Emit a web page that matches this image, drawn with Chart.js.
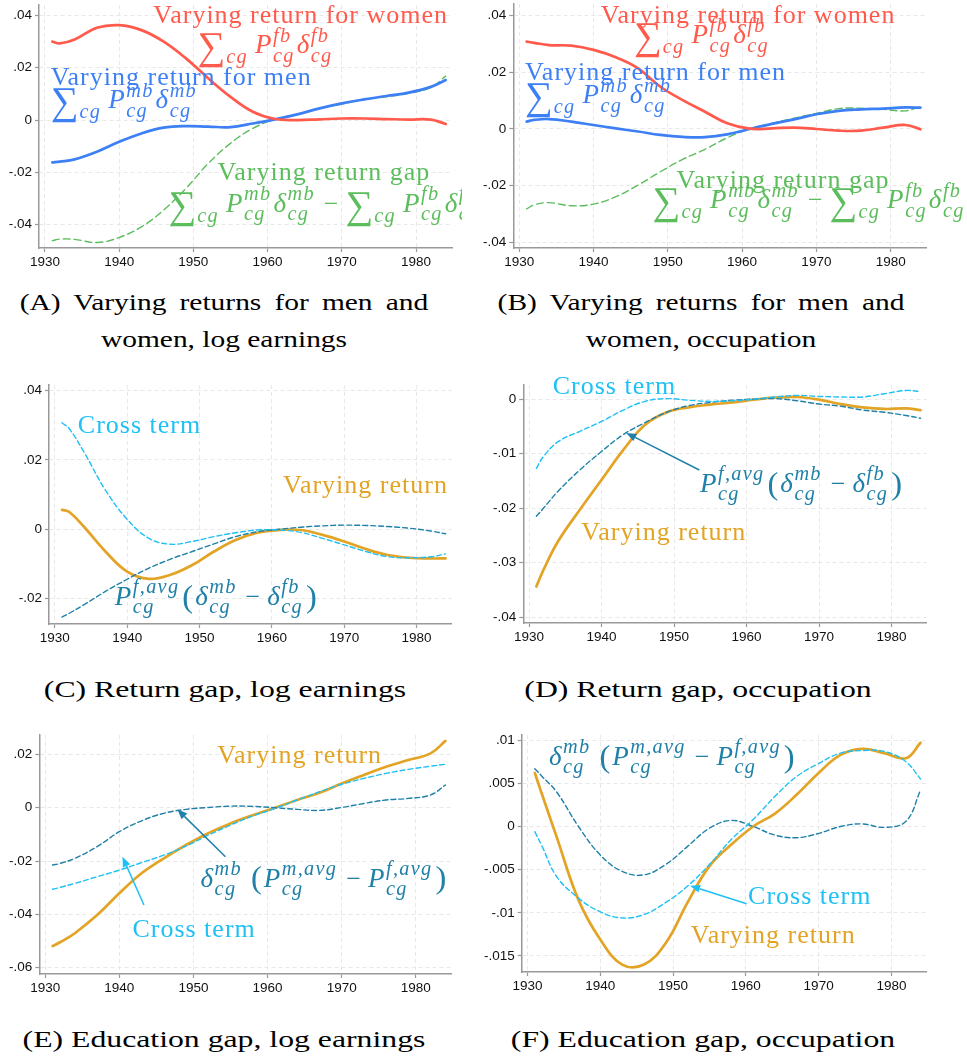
<!DOCTYPE html>
<html><head><meta charset="utf-8">
<script src="https://cdn.jsdelivr.net/npm/chart.js@4"></script>
<style>
body{margin:0;background:#fff;width:967px;height:1059px;position:relative;overflow:hidden}
canvas{position:absolute}
.cap{position:absolute;width:480px;font-family:'Liberation Serif','DejaVu Serif',serif;font-size:23px;line-height:37px;text-align:center;color:#000;white-space:nowrap;transform:scaleX(1.28);transform-origin:50% 50%}
.cap.one{transform:scaleX(1.38)}
.l1{word-spacing:4.5px}
</style></head><body>
<div class="cap" style="left:-16px;top:284px"><span class="l1">(A) Varying returns for men and</span><br>women, log earnings</div>
<div class="cap" style="left:461px;top:284px"><span class="l1">(B) Varying returns for men and</span><br>women, occupation</div>
<div class="cap one" style="left:-15px;top:671px">(C) Return gap, log earnings</div>
<div class="cap one" style="left:458px;top:671px">(D) Return gap, occupation</div>
<div class="cap one" style="left:-16px;top:1021px">(E) Education gap, log earnings</div>
<div class="cap one" style="left:463px;top:1021px">(F) Education gap, occupation</div>
<script>
// ---------- data ----------
const YEARS = [1931,1932,1934,1937,1940,1943,1946,1949,1952,1955,1958,1961,1964,1967,1970,1973,1976,1979,1982,1984];
const X_TICKS = [1930,1940,1950,1960,1970,1980];
const A_Y_TICKS = [-0.04,-0.02,0,0.02,0.04];
const B_Y_TICKS = [-0.04,-0.02,0,0.02,0.04];
const C_Y_TICKS = [-0.02,0,0.02,0.04];
const D_Y_TICKS = [-0.04,-0.03,-0.02,-0.01,0];
const E_Y_TICKS = [-0.06,-0.04,-0.02,0,0.02];
const F_Y_TICKS = [-0.015,-0.01,-0.005,0,0.005,0.01];

const A_WOMEN = [0.0300,0.0293,0.0308,0.0353,0.0363,0.0344,0.0300,0.0236,0.0160,0.0089,0.0032,0.0004,0.0000,0.0003,0.0006,0.0006,0.0004,0.0002,0.0002,-0.0015];
const A_MEN   = [-0.0162,-0.0159,-0.0150,-0.0121,-0.0083,-0.0051,-0.0029,-0.0023,-0.0025,-0.0027,-0.0013,0.0003,0.0022,0.0045,0.0064,0.0079,0.0092,0.0105,0.0127,0.0153];
const A_GAP   = [-0.0461,-0.0455,-0.0456,-0.0468,-0.0449,-0.0408,-0.0344,-0.0261,-0.0166,-0.0089,-0.0032,0.0003,0.0022,0.0045,0.0061,0.0079,0.0089,0.0102,0.0125,0.0168];

const B_WOMEN = [0.0308,0.0304,0.0296,0.0294,0.0279,0.0253,0.0214,0.0149,0.0102,0.0061,0.0020,0.0001,0.0002,0.0005,0.0000,-0.0006,-0.0006,0.0005,0.0014,-0.0001];
const B_MEN   = [0.0026,0.0032,0.0035,0.0026,0.0014,0.0002,-0.0009,-0.0021,-0.0028,-0.0029,-0.0019,0.0000,0.0018,0.0034,0.0052,0.0064,0.0069,0.0072,0.0076,0.0075];
const B_GAP   = [-0.0282,-0.0268,-0.0260,-0.0271,-0.0265,-0.0239,-0.0198,-0.0151,-0.0107,-0.0072,-0.0031,0.0000,0.0020,0.0038,0.0055,0.0072,0.0073,0.0069,0.0064,0.0079];

const C_VARY  = [0.0056,0.0050,0.0008,-0.0064,-0.0122,-0.0143,-0.0131,-0.0103,-0.0064,-0.0031,-0.0010,-0.0002,-0.0002,-0.0016,-0.0035,-0.0057,-0.0074,-0.0082,-0.0084,-0.0084];
const C_CROSS = [0.0307,0.0290,0.0224,0.0113,0.0029,-0.0026,-0.0043,-0.0035,-0.0021,-0.0010,-0.0002,-0.0002,-0.0009,-0.0026,-0.0045,-0.0064,-0.0079,-0.0082,-0.0079,-0.0071];
const C_PF    = [-0.0253,-0.0242,-0.0218,-0.0179,-0.0144,-0.0112,-0.0086,-0.0064,-0.0042,-0.0021,-0.0007,0.0000,0.0006,0.0010,0.0012,0.0011,0.0008,0.0003,-0.0005,-0.0013];

const D_VARY  = [-0.0344,-0.0313,-0.0261,-0.0203,-0.0148,-0.0093,-0.0047,-0.0024,-0.0015,-0.0010,-0.0006,-0.0001,0.0003,0.0004,-0.0001,-0.0009,-0.0015,-0.0018,-0.0017,-0.0020];
const D_CROSS = [-0.0127,-0.0105,-0.0078,-0.0059,-0.0041,-0.0020,-0.0004,0.0001,-0.0002,-0.0004,-0.0003,0.0000,0.0004,0.0007,0.0005,0.0004,0.0004,0.0010,0.0016,0.0014];
const D_PF    = [-0.0215,-0.0200,-0.0169,-0.0130,-0.0096,-0.0065,-0.0043,-0.0024,-0.0012,-0.0006,-0.0002,0.0000,0.0001,-0.0003,-0.0009,-0.0013,-0.0020,-0.0024,-0.0030,-0.0035];

const E_VARY  = [-0.0519,-0.0505,-0.0471,-0.0403,-0.0321,-0.0246,-0.0190,-0.0140,-0.0096,-0.0059,-0.0028,0.0000,0.0029,0.0056,0.0091,0.0123,0.0154,0.0179,0.0204,0.0251];
const E_CROSS = [-0.0306,-0.0299,-0.0284,-0.0259,-0.0234,-0.0206,-0.0178,-0.0144,-0.0103,-0.0065,-0.0031,-0.0003,0.0029,0.0060,0.0088,0.0110,0.0129,0.0144,0.0156,0.0163];
const E_PF    = [-0.0215,-0.0209,-0.0190,-0.0146,-0.0090,-0.0049,-0.0021,-0.0006,0.0001,0.0006,0.0005,0.0000,-0.0006,-0.0010,0.0001,0.0016,0.0029,0.0035,0.0048,0.0085];

const F_VARY  = [0.0062,0.0037,-0.0012,-0.0085,-0.0131,-0.0160,-0.0160,-0.0135,-0.0088,-0.0046,-0.0021,0.0000,0.0015,0.0037,0.0062,0.0083,0.0090,0.0085,0.0079,0.0097];
const F_CROSS = [-0.0006,-0.0023,-0.0058,-0.0083,-0.0099,-0.0106,-0.0102,-0.0088,-0.0069,-0.0044,-0.0015,0.0008,0.0035,0.0058,0.0073,0.0085,0.0088,0.0087,0.0075,0.0055];
const F_PF    = [0.0067,0.0058,0.0040,0.0000,-0.0033,-0.0052,-0.0056,-0.0044,-0.0023,-0.0002,0.0007,0.0000,-0.0010,-0.0013,-0.0008,0.0000,0.0003,-0.0001,0.0006,0.0042];

// ---------- styles ----------
const RED='#ff5a4c', BLUE='#3d7ff5', GREEN='#5cbd5c', ORANGE='#e3a324', SKY='#1fc1f5', TEAL='#1f80a8';
const SERIF = "'Liberation Serif','DejaVu Serif',serif";
const SANS = "'Liberation Sans', Arial, sans-serif";
const XH = 24;

const T_SUM_FB = [{big:'∑'},{sub:'cg',low:1},{gap:5},{i:'P'},{sup:'fb',sub:'cg'},{i:'δ'},{sup:'fb',sub:'cg'}];
const T_SUM_MB = [{big:'∑'},{sub:'cg',low:1},{gap:5},{i:'P'},{sup:'mb',sub:'cg'},{i:'δ'},{sup:'mb',sub:'cg'}];
const T_GAP = [{big:'∑'},{sub:'cg',low:1},{gap:5},{i:'P'},{sup:'mb',sub:'cg'},{i:'δ'},{sup:'mb',sub:'cg'},{op:'−'},{big:'∑'},{sub:'cg',low:1},{gap:5},{i:'P'},{sup:'fb',sub:'cg'},{i:'δ'},{sup:'fb',sub:'cg'}];
const T_PF = [{i:'P'},{sup:'f,avg',sub:'cg'},{paren:'('},{i:'δ'},{sup:'mb',sub:'cg'},{op:'−'},{i:'δ'},{sup:'fb',sub:'cg'},{paren:')'}];
const T_DP = [{i:'δ'},{sup:'mb',sub:'cg'},{gap:6},{paren:'('},{i:'P'},{sup:'m,avg',sub:'cg'},{op:'−'},{i:'P'},{sup:'f,avg',sub:'cg'},{paren:')'}];

function fmt(v){ if (Math.abs(v)<1e-12) return '0'; return String(+v.toFixed(4)).replace(/^(-?)0\./,'$1.'); }

function drawRich(ctx, x, y, toks, size, color, spacing){
  ctx.fillStyle=color; ctx.textAlign='left'; ctx.textBaseline='alphabetic';
  let cx=x;
  const put=(s,font,dy)=>{ctx.font=font; ctx.fillText(s,cx,y+dy); return ctx.measureText(s).width;};
  for(const t of toks){
    if(typeof t==='string'){ ctx.letterSpacing=spacing+'px'; cx+=put(t,`${size}px ${SERIF}`,0); ctx.letterSpacing='0px'; }
    else if(t.gap){ cx+=t.gap; }
    else if(t.op){ cx+=7; cx+=put(t.op,`${size}px ${SERIF}`,0)+7; }
    else if(t.big){ cx+=put(t.big,`${size*1.5}px ${SERIF}`,size*0.22)+1; }
    else if(t.paren){ cx+=1; cx+=put(t.paren,`${size*1.25}px ${SERIF}`,size*0.07)+2; }
    else if(t.i){ cx+=put(t.i,`italic ${size*1.04}px ${SERIF}`,0)+1.5; }
    else {
      ctx.letterSpacing='1.3px';
      const f=`italic ${size*0.78}px ${SERIF}`; let w=0; ctx.font=f;
      if(t.sup){ ctx.fillText(t.sup,cx,y-size*0.44); w=Math.max(w,ctx.measureText(t.sup).width); }
      if(t.sub){ ctx.fillText(t.sub,cx,y+size*(t.low?0.38:0.32)); w=Math.max(w,ctx.measureText(t.sub).width); }
      ctx.letterSpacing='0px';
      cx+=w+2;
    }
  }
}
function arrow(ctx,x1,y1,x2,y2,color){
  ctx.strokeStyle=color; ctx.fillStyle=color; ctx.lineWidth=1.5;
  const a=Math.atan2(y2-y1,x2-x1), L=10, W=4;
  const bx=x2-L*Math.cos(a), by=y2-L*Math.sin(a);
  ctx.beginPath(); ctx.moveTo(x1,y1); ctx.lineTo(bx,by); ctx.stroke();
  ctx.beginPath(); ctx.moveTo(x2,y2); ctx.lineTo(bx-W*Math.sin(a),by+W*Math.cos(a)); ctx.lineTo(bx+W*Math.sin(a),by-W*Math.cos(a)); ctx.closePath(); ctx.fill();
}

const SOLID=2.7, DASHW=1.4;
const PANELS = [
 {left:0, top:0, w:480, area:{l:39,r:452,t:5,b:248}, ymin:-0.0489, ymax:0.044, yticks:A_Y_TICKS, clipR:462,
  series:[{d:A_WOMEN,c:RED,w:SOLID},{d:A_MEN,c:BLUE,w:SOLID},{d:A_GAP,c:GREEN,w:DASHW,dash:[7,4]}],
  notes:[{x:1944.6,y:0.0370,c:RED,t:['Varying return for women']},{x:1950.55,y:0.0255,c:RED,t:T_SUM_FB},
         {x:1930.77,y:0.0134,c:BLUE,t:['Varying return for men']},{x:1930.77,y:0.0045,c:BLUE,t:T_SUM_MB},
         {x:1953.24,y:-0.0229,c:GREEN,t:['Varying return gap']},{x:1946.65,y:-0.0351,c:GREEN,t:T_GAP}], arrows:[]},
 {left:480, top:0, w:487, area:{l:33.3,r:446.7,t:4,b:248}, ymin:-0.042, ymax:0.0441, yticks:B_Y_TICKS,
  series:[{d:B_WOMEN,c:RED,w:SOLID},{d:B_MEN,c:BLUE,w:SOLID},{d:B_GAP,c:GREEN,w:DASHW,dash:[7,4]}],
  notes:[{x:1940.96,y:0.0373,c:RED,t:['Varying return for women']},{x:1945.44,y:0.0302,c:RED,t:T_SUM_FB},
         {x:1930.77,y:0.0173,c:BLUE,t:['Varying return for men']},{x:1930.77,y:0.0091,c:BLUE,t:T_SUM_MB},
         {x:1951.18,y:-0.0209,c:GREEN,t:['Varying return gap']},{x:1947.95,y:-0.0280,c:GREEN,t:T_GAP}], arrows:[]},
 {left:0, top:370, w:480, area:{l:49,r:451.7,t:15,b:254}, ymin:-0.0273, ymax:0.0416, yticks:C_Y_TICKS,
  series:[{d:C_CROSS,c:SKY,w:DASHW,dash:[5,3]},{d:C_PF,c:TEAL,w:DASHW,dash:[5,3]},{d:C_VARY,c:ORANGE,w:SOLID}],
  notes:[{x:1933.18,y:0.0278,c:SKY,t:['Cross term']},{x:1961.54,y:0.0106,c:ORANGE,t:['Varying return']},
         {x:1938.3,y:-0.0218,c:TEAL,t:T_PF}], arrows:[]},
 {left:480, top:370, w:487, area:{l:43.3,r:446.7,t:15,b:253.3}, ymin:-0.0411, ymax:0.0026, yticks:D_Y_TICKS,
  series:[{d:D_CROSS,c:SKY,w:DASHW,dash:[5,3]},{d:D_PF,c:TEAL,w:DASHW,dash:[5,3]},{d:D_VARY,c:ORANGE,w:SOLID}],
  notes:[{x:1933.26,y:0.0010,c:SKY,t:['Cross term']},{x:1953.58,y:-0.0170,c:TEAL,t:T_PF},
         {x:1937.21,y:-0.0259,c:ORANGE,t:['Varying return']}],
  arrows:[{x1:1953.48,y1:-0.0130,x2:1943.4,y2:-0.0062,c:TEAL}]},
 {left:0, top:730, w:480, area:{l:39.3,r:451.7,t:5,b:244}, ymin:-0.0624, ymax:0.0273, yticks:E_Y_TICKS,
  series:[{d:E_CROSS,c:SKY,w:DASHW,dash:[5,3]},{d:E_PF,c:TEAL,w:DASHW,dash:[5,3]},{d:E_VARY,c:ORANGE,w:SOLID}],
  notes:[{x:1953.2,y:0.0169,c:ORANGE,t:['Varying return']},{x:1950.96,y:-0.0296,c:TEAL,t:T_DP},
         {x:1941.76,y:-0.0486,c:SKY,t:['Cross term']}],
  arrows:[{x1:1954.32,y1:-0.0184,x2:1947.82,y2:-0.0006,c:TEAL},{x1:1943.32,y1:-0.0365,x2:1940.42,y2:-0.0184,c:SKY}]},
 {left:480, top:730, w:487, area:{l:41.7,r:446.7,t:5,b:242.7}, ymin:-0.01686, ymax:0.0106, yticks:F_Y_TICKS,
  series:[{d:F_CROSS,c:SKY,w:DASHW,dash:[5,3]},{d:F_PF,c:TEAL,w:DASHW,dash:[5,3]},{d:F_VARY,c:ORANGE,w:SOLID}],
  notes:[{x:1932.95,y:0.00714,c:TEAL,t:T_DP},{x:1960.31,y:-0.00895,c:SKY,t:['Cross term']},
         {x:1952.43,y:-0.0135,c:ORANGE,t:['Varying return']}],
  arrows:[{x1:1960.1,y1:-0.00895,x2:1952.34,y2:-0.00686,c:SKY}]}
];

function notesPlugin(p){
  return { id:'notes', afterDatasetsDraw(chart){
    const ctx=chart.ctx, xs=chart.scales.x, ys=chart.scales.y;
    ctx.save();
    if(p.clipR){ ctx.beginPath(); ctx.rect(0,0,p.clipR,chart.height); ctx.clip(); }
    for(const a of p.arrows) arrow(ctx,xs.getPixelForValue(a.x1),ys.getPixelForValue(a.y1),xs.getPixelForValue(a.x2),ys.getPixelForValue(a.y2),a.c);
    for(const n of p.notes) drawRich(ctx,xs.getPixelForValue(n.x),ys.getPixelForValue(n.y),n.t,26,n.c,1);
    ctx.restore();
  }};
}

function axisCommon(){
  return {
    grid:{color:'#e8e8e8', lineWidth:1, drawTicks:true, tickLength:4, tickColor:'#999', tickWidth:1.2, tickBorderDash:[]},
    border:{display:true, color:'#999', width:1.5, dash:[4,3]},
  };
}

for(const p of PANELS){
  const h = p.area.b + XH;
  const cv=document.createElement('canvas'); cv.width=p.w; cv.height=h;
  cv.style.left=p.left+'px'; cv.style.top=p.top+'px'; document.body.appendChild(cv);
  const xa=axisCommon(), ya=axisCommon();
  new Chart(cv,{
    type:'line',
    data:{datasets:p.series.map(s=>({data:YEARS.map((yr,i)=>({x:yr,y:s.d[i]})), borderColor:s.c, borderWidth:s.w, borderDash:s.dash||[], pointRadius:0, tension:0.4, fill:false, borderCapStyle:'round'}))},
    options:{
      responsive:false, animation:false, devicePixelRatio:1,
      layout:{padding:{left:0, top:p.area.t, right:p.w-p.area.r, bottom:0}},
      plugins:{legend:{display:false}, tooltip:{enabled:false}},
      scales:{
        x:Object.assign(xa,{type:'linear', min:1929.2, max:1984.85,
          afterBuildTicks:s=>{s.ticks=X_TICKS.map(v=>({value:v}));},
          afterFit:s=>{s.height=XH; s.paddingLeft=0; s.paddingRight=0; s.paddingTop=0; s.paddingBottom=0;},
          ticks:{color:'#111', font:{family:SANS,size:13.5}, padding:2, maxRotation:0, callback:v=>String(v)}}),
        y:Object.assign(ya,{type:'linear', min:p.ymin, max:p.ymax,
          afterBuildTicks:s=>{s.ticks=p.yticks.map(v=>({value:v}));},
          afterFit:s=>{s.width=p.area.l; s.paddingLeft=0; s.paddingRight=0; s.paddingTop=0; s.paddingBottom=0;},
          ticks:{color:'#111', font:{family:SANS,size:13.5}, padding:3, callback:v=>fmt(v)}})
      }
    },
    plugins:[notesPlugin(p)]
  });
}
</script>
</body></html>
